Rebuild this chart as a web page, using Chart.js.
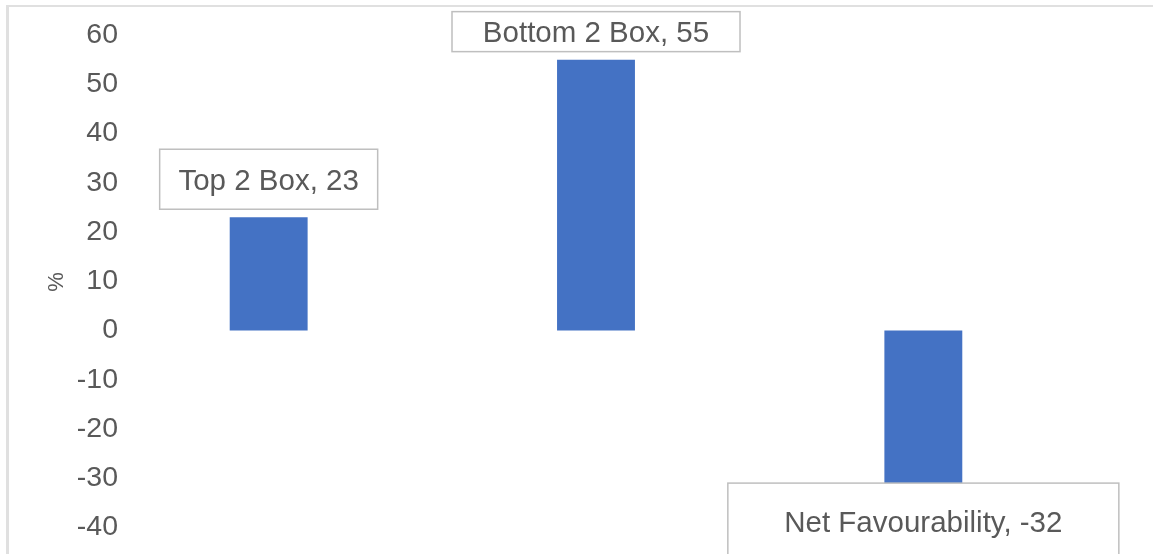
<!DOCTYPE html>
<html>
<head>
<meta charset="utf-8">
<script src="https://cdn.jsdelivr.net/npm/chart.js@4/dist/chart.umd.min.js"></script>
<style>
  body { margin: 0; background: #fff; overflow: hidden; }
  #frame { position: absolute; left: 6px; top: 5px; width: 1300px; height: 700px;
           border-left: 3px solid #e0e0e0; border-top: 2px solid #e0e0e0; pointer-events: none; }
  canvas { position: absolute; left: 0; top: 0; }
</style>
</head>
<body>
<canvas id="chart" width="1153" height="554"></canvas>
<div id="frame"></div>
<script>
var categories = ["Top 2 Box", "Bottom 2 Box", "Net Favourability"];
var values = [23, 55, -32];
var tickValues = [60, 50, 40, 30, 20, 10, 0, -10, -20, -30, -40];

// label box sizes (w, h) as resized in the original
var boxSizes = [[218, 60], [288, 40], [391, 76]];

var labelBoxes = {
    id: 'labelBoxes',
    afterDatasetsDraw: function (chart) {
        var c = chart.ctx;
        var bars = chart.getDatasetMeta(0).data;
        c.save();
        c.font = '29.5px "Liberation Sans", Arial, sans-serif';
        c.textAlign = 'center';
        c.textBaseline = 'alphabetic';
        bars.forEach(function (bar, i) {
            var w = boxSizes[i][0], h = boxSizes[i][1];
            var top = values[i] >= 0 ? bar.y - 8 - h : bar.y - 5;
            var left = bar.x - w / 2;
            c.fillStyle = '#ffffff';
            c.fillRect(left, top, w, h);
            c.strokeStyle = '#bfbfbf';
            c.lineWidth = 1.5;
            c.strokeRect(left, top, w, h);
            c.fillStyle = '#595959';
            c.fillText(categories[i] + ', ' + values[i], bar.x, top + h / 2 + 10.5);
        });
        c.restore();
    }
};

var ctx = document.getElementById('chart').getContext('2d');

var chart = new Chart(ctx, {
    type: 'bar',
    data: {
        labels: categories,
        datasets: [{
            data: values,
            backgroundColor: '#4472C4',
            barPercentage: 0.238,
            categoryPercentage: 1
        }]
    },
    options: {
        responsive: false,
        animation: false,
        devicePixelRatio: 1,
        layout: { padding: { left: 0, right: 66, top: 10, bottom: 0 } },
        plugins: {
            legend: { display: false },
            tooltip: { enabled: false }
        },
        scales: {
            x: { display: false },
            y: {
                min: -45.38,
                max: 65.08,
                grid: { display: false, drawTicks: false },
                border: { display: false },
                afterBuildTicks: function (scale) {
                    scale.ticks = tickValues.map(function (v) { return { value: v }; });
                },
                afterFit: function (scale) {
                    scale.width = 105;
                    scale.paddingTop = 0;
                    scale.paddingBottom = 0;
                    // tick labels overhang the plot edge, as in the original
                    scale._computeLabelArea = function () { return undefined; };
                },
                ticks: {
                    padding: -13,
                    color: '#595959',
                    font: { family: '"Liberation Sans", Arial, sans-serif', size: 28.5 }
                },
                title: {
                    display: true,
                    text: '%',
                    color: '#595959',
                    padding: { top: 44, bottom: 0 },
                    font: { family: '"Liberation Sans", Arial, sans-serif', size: 22 }
                }
            }
        }
    },
    plugins: [labelBoxes]
});
</script>
</body>
</html>
